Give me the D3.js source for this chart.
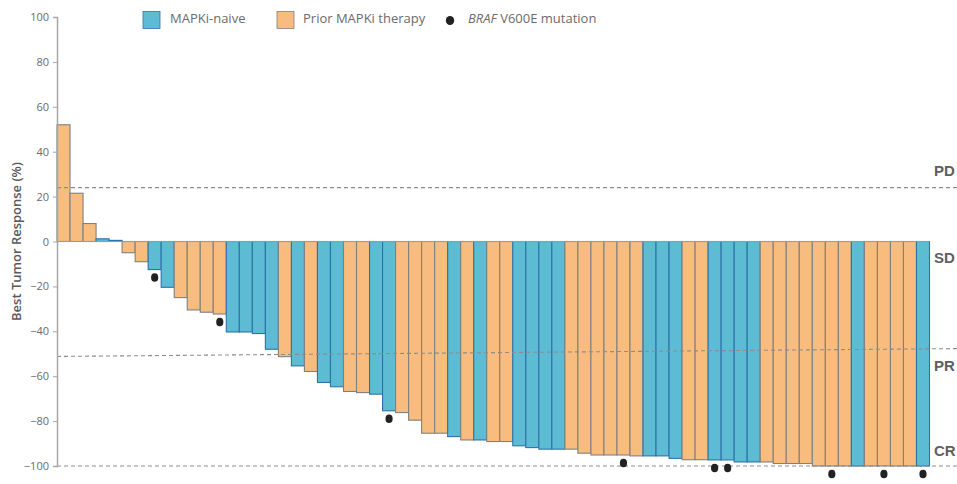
<!DOCTYPE html>
<html>
<head>
<meta charset="utf-8">
<script src="https://cdn.jsdelivr.net/npm/d3@7"></script>
<style>
  html, body { margin: 0; padding: 0; background: #fff; }
  svg { display: block; }
</style>
</head>
<body>
<svg id="chart" width="957" height="484"></svg>
<script>
// ---------- data ----------
const responses = [52, 21.5, 8, 1.2, 0.5, -5, -9, -12.5, -20.4, -25, -30.5, -31.5, -32.3,
  -40.3, -40.3, -41, -48, -51.3, -55.4, -57.9, -62.8, -64.7, -66.8, -67.3, -68, -75.4,
  -76.2, -79.6, -85.4, -85.4, -86.9, -88.4, -88.4, -89.1, -89.1, -91, -91.8, -92.5, -92.5,
  -92.5, -94.3, -95.1, -95.1, -95.1, -95.5, -95.5, -95.5, -96.6, -97.2, -97.2, -97.3, -97.3,
  -98.2, -98.2, -98.2, -98.9, -98.9, -98.9, -100, -100, -100, -100, -100, -100, -100, -100, -100];
// N = MAPKi-naive, P = Prior MAPKi therapy
const groups = ["P","P","P","N","N","P","P","N","N","P","P","P","P",
  "N","N","N","N","P","N","P","N","N","P","P","N","N",
  "P","P","P","P","N","P","N","P","P","N","N","N","N",
  "P","P","P","P","P","P","N","N","N","P","P","N","N",
  "N","N","P","P","P","P","P","P","P","N","P","P","P","P","N"];
const brafPatients = [7, 12, 25, 43, 50, 51, 59, 63, 66];
const yTicks = [100, 80, 60, 40, 20, 0, -20, -40, -60, -80, -100];
const legendLabels = ["MAPKi-naive", "Prior MAPKi therapy", "V600E mutation"];
const thresholdNames = ["PD", "SD", "PR", "CR"];
const pdLine = [24, 24];
const prLine = [-51.2, -47.7];
const crLine = [-100, -100];

// ---------- styles ----------
const blueFill = "#5dbcd3", blueStroke = "#2d72aa";
const orangeFill = "#f8bc7e", orangeStroke = "#808080";
const axisColor = "#a6a6a6", textColor = "#6b6b6b", dashColor = "#8c8c8c";

const svg = d3.select("#chart");
const x = d3.scaleBand().domain(d3.range(responses.length)).range([57, 929.5]).padding(0);
const y = d3.scaleLinear().domain([-100, 100]).range([466, 17]);

// bars
svg.append("g").selectAll("rect").data(responses).join("rect")
  .attr("x", (d, i) => x(i))
  .attr("width", x.bandwidth())
  .attr("y", d => y(Math.max(0, d)))
  .attr("height", d => Math.abs(y(d) - y(0)))
  .attr("fill", (d, i) => groups[i] === "N" ? blueFill : orangeFill)
  .attr("stroke", (d, i) => groups[i] === "N" ? blueStroke : orangeStroke)
  .attr("stroke-width", 1.1);

// zero line
svg.append("line")
  .attr("x1", x(0)).attr("x2", x(responses.length - 1) + x.bandwidth())
  .attr("y1", y(0)).attr("y2", y(0))
  .attr("stroke", "#9a9a9a").attr("stroke-width", 1);

// threshold dashed lines
const xl = 57, xr = 957;
[pdLine, prLine, crLine].forEach(l => {
  svg.append("line")
    .attr("x1", xl).attr("x2", xr)
    .attr("y1", y(l[0])).attr("y2", y(l[1]))
    .attr("stroke", dashColor).attr("stroke-width", 1.1)
    .attr("stroke-dasharray", "4,3");
});

// BRAF dots
svg.append("g").selectAll("ellipse").data(brafPatients).join("ellipse")
  .attr("cx", i => x(i) + x.bandwidth() / 2)
  .attr("cy", i => y(responses[i]) + 8)
  .attr("rx", 3.6).attr("ry", 4.3)
  .attr("fill", "#222");

// y axis
const yAxis = svg.append("g")
  .attr("transform", `translate(57,0)`)
  .call(d3.axisLeft(y).tickValues(yTicks).tickSize(4).tickPadding(4));
yAxis.select(".domain").attr("stroke", axisColor).attr("stroke-width", 1.5);
yAxis.selectAll(".tick line").attr("stroke", axisColor);
yAxis.selectAll(".tick text")
  .attr("fill", textColor)
  .style("font-family", "'Open Sans', sans-serif")
  .style("font-size", "11px");

// y axis title
svg.append("text")
  .attr("transform", `translate(21,${y(0)}) rotate(-90)`)
  .attr("text-anchor", "middle")
  .attr("fill", "#5a5a5a")
  .style("font-family", "'Open Sans', sans-serif")
  .style("font-size", "13px")
  .style("font-weight", "600")
  .text("Best Tumor Response (%)");

// threshold labels
const labelVals = [24 + 7, -8, -56, -94];
thresholdNames.forEach((t, k) => {
  svg.append("text")
    .attr("x", 934).attr("y", y(labelVals[k]))
    .attr("dominant-baseline", "middle")
    .attr("fill", "#5f5f5f")
    .style("font-family", "'Liberation Sans', Arial, sans-serif")
    .style("font-size", "15px")
    .style("font-weight", "bold")
    .text(t);
});

// legend
const lg = svg.append("g").style("font-family", "'Open Sans', sans-serif").style("font-size", "13px");
lg.append("rect").attr("x", 143).attr("y", 11.5).attr("width", 17).attr("height", 17)
  .attr("fill", blueFill).attr("stroke", blueStroke).attr("stroke-width", 0.8);
lg.append("text").attr("x", 170).attr("y", 20).attr("dominant-baseline", "middle")
  .attr("fill", textColor).text(legendLabels[0]);
lg.append("rect").attr("x", 277).attr("y", 11.5).attr("width", 17).attr("height", 17)
  .attr("fill", orangeFill).attr("stroke", orangeStroke).attr("stroke-width", 0.8);
lg.append("text").attr("x", 303).attr("y", 20).attr("dominant-baseline", "middle")
  .attr("fill", textColor).text(legendLabels[1]);
lg.append("ellipse").attr("cx", 450).attr("cy", 20.5).attr("rx", 4.2).attr("ry", 4.5).attr("fill", "#222");
const t3 = lg.append("text").attr("x", 468).attr("y", 20).attr("dominant-baseline", "middle")
  .attr("fill", textColor);
t3.append("tspan").style("font-style", "italic").text("BRAF");
t3.append("tspan").text(" " + legendLabels[2]);
</script>
</body>
</html>
